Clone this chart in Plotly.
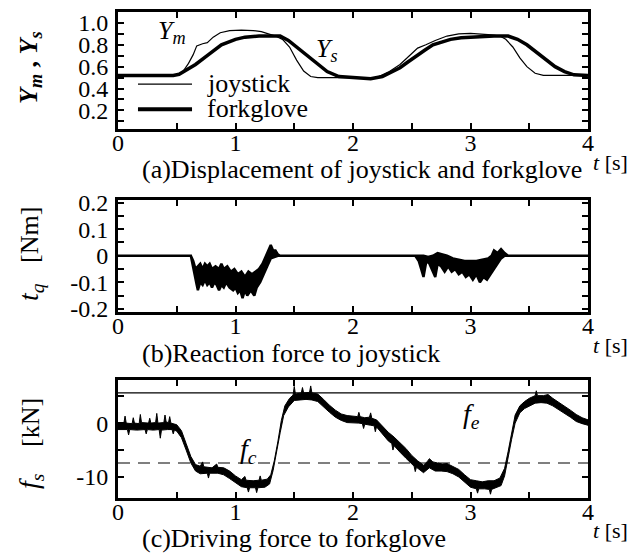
import plotly.graph_objects as go

# ---------------- data ----------------
# (a) displacement
joy_t = [0, 0.50, 0.55, 0.60, 0.64, 0.67, 0.72, 0.76, 0.81, 0.87, 0.95, 1.05, 1.15, 1.22, 1.28,
         1.34, 1.40, 1.46, 1.52, 1.58, 1.64, 1.70, 1.80, 2.00, 2.15, 2.22, 2.30, 2.40, 2.48, 2.55,
         2.62, 2.70, 2.80, 2.90, 3.00, 3.10, 3.18, 3.25, 3.30, 3.36, 3.42, 3.48, 3.55, 3.62, 3.80, 4.0]
joy_y = [0.52, 0.52, 0.55, 0.63, 0.71, 0.79, 0.81, 0.82, 0.87, 0.91, 0.93, 0.935, 0.93, 0.92, 0.90,
         0.88, 0.85, 0.78, 0.66, 0.56, 0.51, 0.50, 0.50, 0.50, 0.49, 0.51, 0.55, 0.62, 0.70, 0.77,
         0.80, 0.84, 0.88, 0.90, 0.905, 0.90, 0.89, 0.88, 0.85, 0.78, 0.68, 0.60, 0.54, 0.52, 0.52, 0.52]
fork_t = [0, 0.47, 0.52, 0.57, 0.66, 0.77, 0.88, 1.0, 1.08, 1.2, 1.31, 1.38, 1.45, 1.52, 1.58, 1.64,
          1.70, 1.78, 1.88, 2.0, 2.15, 2.25, 2.33, 2.40, 2.47, 2.54, 2.61, 2.68, 2.76, 2.83, 2.92,
          3.0, 3.1, 3.2, 3.32, 3.40, 3.48, 3.56, 3.64, 3.72, 3.80, 3.88, 4.0]
fork_y = [0.52, 0.52, 0.53, 0.56, 0.62, 0.71, 0.80, 0.85, 0.87, 0.88, 0.88, 0.88, 0.84, 0.78, 0.73, 0.67,
          0.62, 0.555, 0.51, 0.50, 0.49, 0.51, 0.55, 0.59, 0.645, 0.70, 0.75, 0.80, 0.83, 0.85, 0.865,
          0.87, 0.88, 0.88, 0.88, 0.85, 0.80, 0.73, 0.66, 0.60, 0.555, 0.525, 0.52]

# (b) reaction torque t_q: upper and lower edge of the noisy trace
tq_up_t = [0, 0.62, 0.64, 0.66, 0.68, 0.70, 0.72, 0.74, 0.76, 0.78, 0.80, 0.83, 0.86, 0.88, 0.90, 0.93,
           0.96, 0.99, 1.02, 1.05, 1.08, 1.11, 1.14, 1.17, 1.20, 1.23, 1.26, 1.28, 1.30, 1.32, 1.34,
           1.36, 1.38, 2.53, 2.56, 2.60, 2.64, 2.68, 2.72, 2.76, 2.80, 2.85, 2.90, 2.95, 3.00, 3.05,
           3.10, 3.15, 3.18, 3.20, 3.23, 3.26, 3.29, 3.32, 4.0]
tq_up = [0, 0, -0.02, -0.05, -0.04, -0.03, -0.05, -0.03, -0.04, -0.03, -0.05, -0.04, -0.05, -0.03, -0.05, -0.04,
         -0.06, -0.05, -0.07, -0.06, -0.08, -0.06, -0.07, -0.06, -0.05, -0.03, 0.0, 0.02, 0.04, 0.02, 0.02,
         0.005, 0, 0, 0.0, 0.0, -0.005, 0.0, 0.01, 0.005, 0.0, -0.01, -0.015, -0.02, -0.02, -0.02,
         -0.015, -0.01, 0.0, 0.02, 0.01, 0.025, 0.01, 0, 0]
tq_dn_t = [0, 0.62, 0.65, 0.67, 0.68, 0.70, 0.72, 0.74, 0.76, 0.78, 0.80, 0.82, 0.84, 0.86, 0.88, 0.90,
           0.92, 0.95, 0.98, 1.00, 1.02, 1.04, 1.06, 1.08, 1.10, 1.13, 1.16, 1.18, 1.21, 1.24, 1.27,
           1.30, 1.33, 1.36, 2.53, 2.56, 2.58, 2.60, 2.62, 2.64, 2.67, 2.70, 2.72, 2.75, 2.78, 2.81,
           2.84, 2.87, 2.90, 2.93, 2.96, 2.99, 3.02, 3.05, 3.08, 3.11, 3.14, 3.17, 3.20, 3.23, 3.26,
           3.29, 4.0]
tq_dn = [0, 0, -0.06, -0.11, -0.13, -0.10, -0.11, -0.09, -0.11, -0.10, -0.12, -0.10, -0.11, -0.13, -0.11, -0.12,
         -0.10, -0.12, -0.13, -0.12, -0.14, -0.13, -0.16, -0.13, -0.15, -0.13, -0.15, -0.12, -0.10, -0.07, -0.04,
         -0.01, -0.005, 0, 0, -0.02, -0.05, -0.08, -0.03, -0.02, -0.05, -0.08, -0.03, -0.04, -0.06, -0.04,
         -0.06, -0.05, -0.07, -0.06, -0.08, -0.07, -0.09, -0.07, -0.10, -0.08, -0.09, -0.07, -0.05, -0.03, -0.01,
         0, 0]

# (c) driving force f_s: upper and lower edge of the noisy trace
fs_up_t = [0.00, 0.05, 0.06, 0.07, 0.12, 0.13, 0.14, 0.18, 0.19, 0.20, 0.26, 0.27, 0.28, 0.32, 0.33, 0.34,
           0.39, 0.40, 0.41, 0.43, 0.44, 0.45, 0.50, 0.54, 0.58, 0.62, 0.66, 0.70, 0.72, 0.73, 0.80, 0.84,
           0.85, 0.90, 0.95, 1.00, 1.05, 1.08, 1.09, 1.15, 1.20, 1.21, 1.22, 1.27, 1.30, 1.33, 1.36, 1.39,
           1.42, 1.46, 1.49, 1.50, 1.51, 1.56, 1.57, 1.58, 1.63, 1.64, 1.65, 1.70, 1.75, 1.80, 1.85, 1.90,
           1.95, 2.00, 2.04, 2.05, 2.06, 2.10, 2.14, 2.15, 2.16, 2.20, 2.25, 2.30, 2.35, 2.40, 2.45, 2.50,
           2.55, 2.60, 2.63, 2.65, 2.68, 2.72, 2.76, 2.80, 2.85, 2.90, 2.95, 3.00, 3.05, 3.10, 3.15, 3.20,
           3.25, 3.29, 3.32, 3.35, 3.38, 3.42, 3.46, 3.50, 3.55, 3.56, 3.57, 3.62, 3.66, 3.70, 3.75, 3.80,
           3.85, 3.90, 3.95, 4.00]
fs_up = [-0.1, 0.0, 1.3, 0.0, -0.1, 1.0, 0.0, -0.1, 1.6, 0.1, 0.0, 0.9, 0.0, 0.1, 1.8, 0.0,
         0.1, 1.5, 0.2, 0.1, 1.2, 0.0, -0.3, -1.4, -3.8, -6.2, -7.7, -8.0, -7.2, -8.1, -8.3, -7.6,
         -8.2, -8.3, -8.9, -9.8, -10.5, -9.9, -10.6, -10.7, -10.6, -9.8, -10.6, -10.4, -9.6, -7.0, -3.5, 0.5,
         3.2, 4.6, 5.2, 6.8, 5.4, 5.6, 6.6, 5.6, 5.7, 6.9, 5.6, 5.4, 4.4, 3.3, 2.4, 1.7,
         1.4, 1.3, 1.2, 2.0, 1.2, 1.0, 1.1, 1.9, 0.9, 0.6, -0.5, -1.7, -2.6, -3.6, -4.7, -6.0,
         -7.0, -7.8, -7.2, -6.6, -7.2, -7.4, -7.6, -7.5, -8.0, -8.6, -9.6, -10.5, -10.7, -10.9, -10.7, -10.7,
         -10.2, -8.4, -5.3, -1.5, 1.5, 3.2, 4.0, 4.6, 5.1, 6.0, 5.1, 5.1, 5.3, 4.6, 3.9, 3.1,
         2.4, 1.6, 1.0, 0.6]
fs_dn_t = [0.00, 0.08, 0.09, 0.10, 0.16, 0.23, 0.24, 0.25, 0.30, 0.35, 0.36, 0.37, 0.42, 0.46, 0.47, 0.48,
           0.50, 0.54, 0.58, 0.62, 0.66, 0.70, 0.76, 0.77, 0.78, 0.85, 0.90, 0.95, 1.00, 1.05, 1.10, 1.11,
           1.12, 1.17, 1.18, 1.19, 1.25, 1.29, 1.32, 1.35, 1.38, 1.41, 1.45, 1.50, 1.55, 1.60, 1.65, 1.70,
           1.75, 1.80, 1.85, 1.90, 1.95, 2.00, 2.05, 2.08, 2.09, 2.10, 2.15, 2.18, 2.19, 2.20, 2.25, 2.30,
           2.33, 2.34, 2.35, 2.40, 2.45, 2.50, 2.52, 2.53, 2.54, 2.60, 2.65, 2.70, 2.75, 2.80, 2.85, 2.90,
           2.95, 3.00, 3.05, 3.06, 3.07, 3.12, 3.16, 3.17, 3.18, 3.22, 3.26, 3.29, 3.32, 3.35, 3.38, 3.42,
           3.46, 3.50, 3.55, 3.60, 3.65, 3.70, 3.75, 3.80, 3.85, 3.90, 3.95, 4.00]
fs_dn = [-1.2, -1.2, -2.2, -1.2, -1.3, -1.2, -2.0, -1.2, -1.3, -1.2, -2.8, -1.3, -1.2, -1.2, -2.0, -1.3,
         -1.5, -2.7, -5.0, -7.4, -8.9, -9.4, -9.3, -10.2, -9.3, -9.3, -9.6, -10.3, -11.0, -11.8, -12.0, -12.8,
         -12.0, -12.0, -12.9, -12.0, -11.9, -11.3, -8.8, -5.6, -1.8, 1.4, 3.0, 4.2, 4.3, 4.4, 4.3, 4.0,
         3.0, 2.0, 1.1, 0.5, 0.1, 0.0, 0.0, -0.1, -1.0, -0.2, -0.4, -0.5, -1.6, -0.7, -1.9, -3.3,
         -3.8, -5.0, -4.2, -5.4, -6.5, -7.6, -8.0, -9.0, -8.2, -9.2, -8.3, -8.9, -8.9, -9.0, -9.4, -10.0,
         -11.0, -11.9, -12.2, -13.0, -12.2, -12.2, -12.3, -13.2, -12.3, -12.0, -11.6, -9.8, -6.8, -3.0, 0.0, 1.9,
         2.7, 3.2, 3.7, 3.8, 3.7, 3.2, 2.6, 1.8, 1.1, 0.3, -0.1, -0.4]
fe_level = 5.6     # solid reference line f_e
fc_level = -7.4    # dashed reference line f_c
t_span = [0, 4]

x_ticks = [0, 0.5, 1, 1.5, 2, 2.5, 3, 3.5, 4]
x_text = ["0", "", "1", "", "2", "", "3", "", "4"]
ya_ticks = [0.1, 0.2, 0.3, 0.4, 0.5, 0.6, 0.7, 0.8, 0.9, 1.0]
ya_text = ["", "0.2", "", "0.4", "", "0.6", "", "0.8", "", "1.0"]
yb_ticks = [-0.2, -0.15, -0.1, -0.05, 0, 0.05, 0.1, 0.15, 0.2]
yb_text = ["-0.2", "", "-0.1", "", "0", "", "0.1", "", "0.2"]
yc_ticks = [-10, -5, 0, 5]
yc_text = ["-10", "", "0", ""]

# ---------------- figure ----------------
# The page body keeps its default 8 px margin, so the figure is drawn 8 px in from
# the top-left corner of the 636x560 window; it is sized to fill the rest exactly.
OFF = 8
W, H = 636 - OFF, 560 - OFF
SERIF = "Liberation Serif"
TICKF = dict(family=SERIF, size=24, color="black")


def xp(px):  # window pixel -> paper x
    return (px - OFF) / W


def yp(py):  # window pixel -> paper y
    return 1 - (py - OFF) / H


def band(t_up, up, t_dn, dn):
    """closed outline: upper edge left->right, lower edge right->left"""
    return list(t_up) + list(t_dn)[::-1], list(up) + list(dn)[::-1]


fig = go.Figure()
fig.add_trace(go.Scatter(x=joy_t, y=joy_y, mode="lines", line=dict(color="black", width=1.2),
                         xaxis="x", yaxis="y", showlegend=False))
fig.add_trace(go.Scatter(x=fork_t, y=fork_y, mode="lines", line=dict(color="black", width=3.5),
                         xaxis="x", yaxis="y", showlegend=False))

bx, by = band(tq_up_t, tq_up, tq_dn_t, tq_dn)
fig.add_trace(go.Scatter(x=bx, y=by, mode="lines", fill="toself", fillcolor="black",
                         line=dict(color="black", width=2.5), xaxis="x2", yaxis="y2", showlegend=False))

fig.add_trace(go.Scatter(x=t_span, y=[fe_level, fe_level], mode="lines", line=dict(color="black", width=1.2),
                         xaxis="x3", yaxis="y3", showlegend=False))
fig.add_trace(go.Scatter(x=t_span, y=[fc_level, fc_level], mode="lines",
                         line=dict(color="black", width=1.2, dash="12px,8px"),
                         xaxis="x3", yaxis="y3", showlegend=False))
cx, cy = band(fs_up_t, fs_up, fs_dn_t, fs_dn)
fig.add_trace(go.Scatter(x=cx, y=cy, mode="lines", fill="toself", fillcolor="black",
                         line=dict(color="black", width=1.0), xaxis="x3", yaxis="y3", showlegend=False))

xdom = [xp(118), xp(588)]
doms = {"a": [yp(129), yp(12)], "b": [yp(312), yp(200)], "c": [yp(498), yp(380)]}


def xax(anchor):
    return dict(domain=xdom, range=[0, 4], anchor=anchor, tickmode="array", tickvals=x_ticks,
                ticktext=x_text, ticks="inside", ticklen=6, tickwidth=2, tickcolor="black",
                showline=True, linewidth=3, linecolor="black", mirror="allticks", automargin=False,
                showgrid=False, zeroline=False, tickfont=TICKF, ticklabelstandoff=-10)


def yax(anchor, dom, rng, tv, tt):
    return dict(domain=dom, range=rng, anchor=anchor, tickmode="array", tickvals=tv, ticktext=tt,
                ticks="inside", ticklen=6, tickwidth=2, tickcolor="black", automargin=False,
                showline=True, linewidth=3, linecolor="black", mirror="allticks",
                showgrid=False, zeroline=False, tickfont=TICKF, ticklabelstandoff=2)


fig.update_layout(
    template="none",
    width=W, height=H, margin=dict(l=0, r=0, t=0, b=0, pad=0),
    paper_bgcolor="white", plot_bgcolor="white", showlegend=False,
    xaxis=xax("y"), yaxis=yax("x", doms["a"], [0.03, 1.1], ya_ticks, ya_text),
    xaxis2=xax("y2"), yaxis2=yax("x2", doms["b"], [-0.212, 0.21], yb_ticks, yb_text),
    xaxis3=xax("y3"), yaxis3=yax("x3", doms["c"], [-13.9, 8.0], yc_ticks, yc_text),
)

ann = []


def A(text, x, y, size=24, xref="paper", yref="paper", xanchor="center", yanchor="middle", angle=0):
    ann.append(dict(text=text, x=x, y=y, xref=xref, yref=yref, xanchor=xanchor, yanchor=yanchor,
                    showarrow=False, textangle=angle, font=dict(family=SERIF, size=size, color="black")))


# captions and axis unit labels
for cap, yy in (("(a)Displacement of joystick and forkglove", 170),
                ("(b)Reaction force to joystick", 353),
                ("(c)Driving force to forkglove", 538)):
    A(cap, xp(140), yp(yy), size=26, xanchor="left")
for yy in (162, 345, 530):
    A("<i>t</i> [s]", xp(630), yp(yy), size=22, xanchor="right")

# y-axis titles
A("<b><i>Y<sub>m</sub></i> , <i>Y<sub>s</sub></i></b>", xp(30), yp(68), size=26, angle=-90)
A("[Nm]", xp(30), yp(235), size=26, angle=-90)
A("<i>t<sub>q</sub></i>", xp(30), yp(292), size=28, angle=-90)
A("[kN]", xp(30), yp(423), size=26, angle=-90)
A("<i>f<sub>s</sub></i>", xp(30), yp(481), size=28, angle=-90)

# curve labels
A("<i>Y<sub>m</sub></i>", 0.46, 0.92, size=26, xref="x", yref="y")
A("<i>Y<sub>s</sub></i>", 1.78, 0.75, size=26, xref="x", yref="y")
A("<i>f<sub>c</sub></i>", 1.11, -5.0, size=28, xref="x3", yref="y3")
A("<i>f<sub>e</sub></i>", 3.01, 1.5, size=28, xref="x3", yref="y3")

# legend (inside panel a)
A("joystick", 0.74, 0.445, size=26, xref="x", yref="y", xanchor="left")
A("forkglove", 0.74, 0.215, size=26, xref="x", yref="y", xanchor="left")
fig.update_layout(annotations=ann)
fig.add_shape(type="line", xref="x", yref="y", x0=0.17, x1=0.63, y0=0.44, y1=0.44,
              line=dict(color="black", width=1.2))
fig.add_shape(type="line", xref="x", yref="y", x0=0.17, x1=0.63, y0=0.21, y1=0.21,
              line=dict(color="black", width=4))

fig.write_html("out.html")
